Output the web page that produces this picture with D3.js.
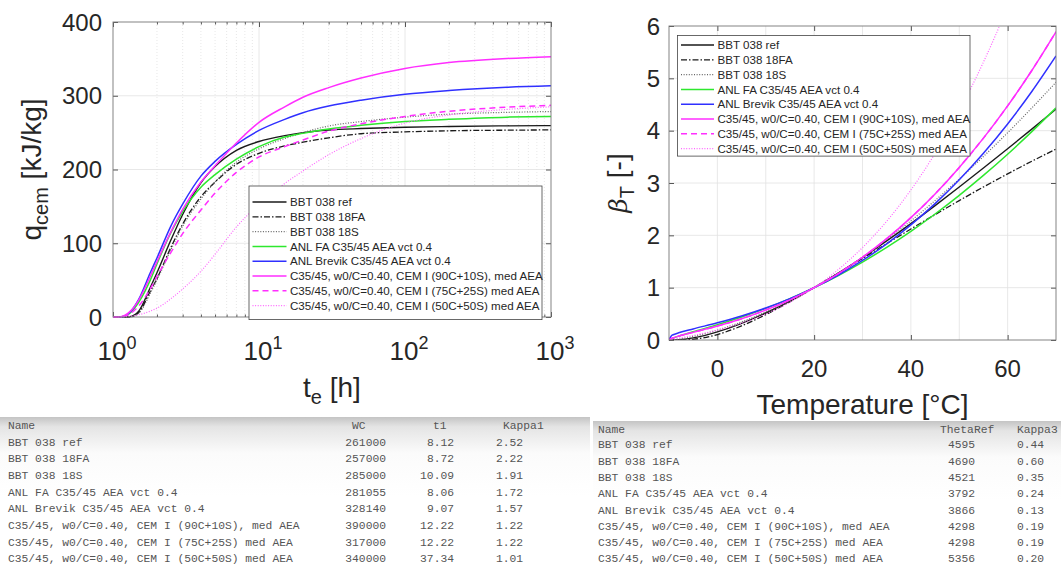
<!DOCTYPE html>
<html>
<head>
<meta charset="utf-8">
<script src="https://cdn.jsdelivr.net/npm/d3@7"></script>
<style>
  body { margin: 0; background: #fff; }
  text { font-family: "Liberation Sans", Arial, sans-serif; fill: #262626; }
  .mono { font-family: "Liberation Mono", "Courier New", monospace; fill: #555; font-size: 11.3px; }
</style>
</head>
<body>
<svg id="chart" width="1061" height="564"></svg>
<script>
// --- data ---
var names = [
  'BBT 038 ref',
  'BBT 038 18FA',
  'BBT 038 18S',
  'ANL FA C35/45 AEA vct 0.4',
  'ANL Brevik C35/45 AEA vct 0.4',
  'C35/45, w0/C=0.40, CEM I (90C+10S), med AEA',
  'C35/45, w0/C=0.40, CEM I (75C+25S) med AEA',
  'C35/45, w0/C=0.40, CEM I (50C+50S) med AEA'
];
var WC = ['261000', '257000', '285000', '281055', '328140', '390000', '317000', '340000'];
var t1 = ['8.12', '8.72', '10.09', '8.06', '9.07', '12.22', '12.22', '37.34'];
var kappa1 = ['2.52', '2.22', '1.91', '1.72', '1.57', '1.22', '1.22', '1.01'];
var thetaRef = ['4595', '4690', '4521', '3792', '3866', '4298', '4298', '5356'];
var kappa3 = ['0.44', '0.60', '0.35', '0.24', '0.13', '0.19', '0.19', '0.20'];

// heat curves, q_cem [kJ/kg] at t_e [h]
var tHours = [1, 1.1, 1.2, 1.3, 1.5, 1.8, 2, 2.5, 3, 4, 5, 7, 10, 15, 20, 30, 50, 100, 200, 500, 1000];
var qRef    = [0, 0, 0, 0.5, 8, 40, 60, 105, 139, 182, 204, 226, 238, 246, 250, 253.5, 255.5, 257.3, 258.3, 259.2, 259.5];
var q18FA   = [0, 0, 0, 0, 6, 35, 52, 95, 126, 163, 183, 207, 222, 232, 237, 243, 248.5, 251, 252.5, 253.3, 253.7];
var q18S    = [0, 0, 0, 0, 5, 32, 50, 92, 123, 160, 183, 210, 228, 242, 250, 259, 265, 271, 275, 277.5, 278.6];
var qAnlFa  = [0, 0, 1, 5, 20, 50, 72, 115, 143, 176, 193, 214, 231, 244, 249, 255, 260, 265, 268, 271, 272];
var qBrevik = [0, 0, 1, 6, 24, 60, 80, 124, 153, 191, 211, 234, 253, 268, 277, 286, 294, 302, 307, 311.5, 313.5];
var q90C    = [0, 0, 2, 7, 23, 55, 75, 116, 146, 183, 205, 236, 264, 285, 298, 311, 324, 337, 345, 350.5, 353];
var q75C    = [0, 0, 1, 4, 15, 38, 55, 88, 113, 145, 168, 196, 217, 231, 240, 252, 262, 272, 279, 284.5, 287];
var q50C    = [0, 0, 0.5, 1, 3, 8, 12, 25, 38, 62, 85, 122, 153, 181, 198, 220, 242, 263, 274, 281.5, 285];

// temperature factor beta_T [-] at T [C]
var tempC = [-10, -9.5, -9, -8, -5, 0, 5, 10, 15, 20, 25, 30, 35, 40, 45, 50, 55, 60, 65, 70];
var bRef    = [0, 0, 0.0005, 0.004, 0.04, 0.155, 0.318, 0.516, 0.745, 1, 1.278, 1.577, 1.893, 2.224, 2.568, 2.923, 3.286, 3.655, 4.03, 4.41];
var b18FA   = [0, 0, 0, 0.0002, 0.013, 0.104, 0.27, 0.486, 0.734, 1, 1.277, 1.559, 1.841, 2.121, 2.396, 2.664, 2.924, 3.175, 3.416, 3.648];
var b18S    = [0, 0, 0.004, 0.015, 0.068, 0.19, 0.346, 0.534, 0.752, 1, 1.278, 1.584, 1.918, 2.278, 2.665, 3.075, 3.507, 3.96, 4.434, 4.925];
var bAnlFa  = [0, 0.021, 0.04, 0.073, 0.157, 0.291, 0.439, 0.604, 0.791, 1, 1.232, 1.489, 1.77, 2.076, 2.408, 2.765, 3.145, 3.55, 3.981, 4.435];
var bBrevik = [0, 0.081, 0.105, 0.138, 0.212, 0.328, 0.459, 0.612, 0.791, 1, 1.242, 1.52, 1.838, 2.199, 2.605, 3.061, 3.568, 4.129, 4.748, 5.427];
var b90C    = [0, 0.028, 0.046, 0.075, 0.146, 0.266, 0.406, 0.572, 0.768, 1, 1.27, 1.581, 1.936, 2.338, 2.791, 3.298, 3.857, 4.474, 5.15, 5.889];
var b75C    = [0, 0.028, 0.046, 0.075, 0.146, 0.266, 0.406, 0.572, 0.768, 1, 1.27, 1.581, 1.936, 2.338, 2.791, 3.298, 3.857, 4.474, 5.15, 5.889];
var b50C    = [0, 0.01, 0.019, 0.036, 0.087, 0.189, 0.322, 0.497, 0.72, 1, 1.346, 1.766, 2.27, 2.867, 3.567, 4.379, 5.31, 6.37, 7.57, 8.91];

var qSeries = [qRef, q18FA, q18S, qAnlFa, qBrevik, q90C, q75C, q50C];
var bSeries = [bRef, b18FA, b18S, bAnlFa, bBrevik, b90C, b75C, b50C];

// line styles per series (same order as names)
var styles = [
  { color: '#1a1a1a', dash: null, w: 1.4 },
  { color: '#1a1a1a', dash: '6,2,1.5,2', w: 1.3 },
  { color: '#666', dash: '1,1.6', w: 1.2 },
  { color: '#2ee82e', dash: null, w: 1.5 },
  { color: '#3030ff', dash: null, w: 1.5 },
  { color: '#ff2eff', dash: null, w: 1.5 },
  { color: '#ff2eff', dash: '6,4', w: 1.5 },
  { color: '#ff66ff', dash: '1,1.6', w: 1.2 }
];

var svg = d3.select('#chart');

/**
 * left plot: heat of hydration
 */
var L = { left: 113, right: 551, top: 22, bottom: 317 };
var x1 = d3.scaleLog().domain([1, 1000]).range([L.left, L.right]);
var y1 = d3.scaleLinear().domain([0, 400]).range([L.bottom, L.top]);

var g1 = svg.append('g');
var minorT = [];
[1, 10, 100].forEach(function(dec) { for (var k = 2; k <= 9; k++) minorT.push(dec * k); });

// grid
g1.selectAll('.minor').data(minorT).enter().append('line')
  .attr('x1', d => x1(d)).attr('x2', d => x1(d))
  .attr('y1', L.top).attr('y2', L.bottom)
  .attr('stroke', '#d6d6d6').attr('stroke-width', 0.6).attr('stroke-dasharray', '1,2');
g1.selectAll('.vmaj').data([10, 100]).enter().append('line')
  .attr('x1', d => x1(d)).attr('x2', d => x1(d))
  .attr('y1', L.top).attr('y2', L.bottom)
  .attr('stroke', '#e2e2e2').attr('stroke-width', 0.8);
g1.selectAll('.hmaj').data([100, 200, 300]).enter().append('line')
  .attr('x1', L.left).attr('x2', L.right)
  .attr('y1', d => y1(d)).attr('y2', d => y1(d))
  .attr('stroke', '#e2e2e2').attr('stroke-width', 0.8);

// ticks (inward, all four sides)
g1.append('g').attr('transform', 'translate(0,' + L.bottom + ')')
  .call(d3.axisBottom(x1).tickValues([1, 10, 100, 1000]).tickFormat('').tickSize(-5).tickSizeOuter(0))
  .call(g => g.select('.domain').remove());
g1.append('g').attr('transform', 'translate(0,' + L.bottom + ')')
  .call(d3.axisBottom(x1).tickValues(minorT).tickFormat('').tickSize(-2.5).tickSizeOuter(0))
  .call(g => g.select('.domain').remove());
g1.append('g').attr('transform', 'translate(0,' + L.top + ')')
  .call(d3.axisTop(x1).tickValues([1, 10, 100, 1000]).tickFormat('').tickSize(-5).tickSizeOuter(0))
  .call(g => g.select('.domain').remove());
g1.append('g').attr('transform', 'translate(0,' + L.top + ')')
  .call(d3.axisTop(x1).tickValues(minorT).tickFormat('').tickSize(-2.5).tickSizeOuter(0))
  .call(g => g.select('.domain').remove());
g1.append('g').attr('transform', 'translate(' + L.left + ',0)')
  .call(d3.axisLeft(y1).ticks(4).tickFormat('').tickSize(-5).tickSizeOuter(0))
  .call(g => g.select('.domain').remove());
g1.append('g').attr('transform', 'translate(' + L.right + ',0)')
  .call(d3.axisRight(y1).ticks(4).tickFormat('').tickSize(-5).tickSizeOuter(0))
  .call(g => g.select('.domain').remove());
g1.selectAll('.tick line').attr('stroke', '#555');

// tick labels
g1.selectAll('.ylab').data([0, 100, 200, 300, 400]).enter().append('text')
  .attr('x', L.left - 11).attr('y', d => y1(d) + 8.5)
  .attr('text-anchor', 'end').attr('font-size', 24).text(d => d);
var xl = g1.selectAll('.xlab').data([0, 1, 2, 3]).enter().append('text')
  .attr('x', d => x1(Math.pow(10, d)) + 4).attr('y', 360)
  .attr('text-anchor', 'middle').attr('font-size', 26);
xl.append('tspan').text('10');
xl.append('tspan').attr('dy', -11).attr('font-size', 18).text(d => d);

// axis titles
var yt = g1.append('text').attr('transform', 'translate(41,' + ((L.top + L.bottom) / 2) + ') rotate(-90)')
  .attr('text-anchor', 'middle').attr('font-size', 28);
yt.append('tspan').text('q');
yt.append('tspan').attr('dy', 7).attr('font-size', 20).text('cem');
yt.append('tspan').attr('dy', -7).text(' [kJ/kg]');
var xt = g1.append('text').attr('x', (L.left + L.right) / 2).attr('y', 397)
  .attr('text-anchor', 'middle').attr('font-size', 28);
xt.append('tspan').text('t');
xt.append('tspan').attr('dy', 7).attr('font-size', 20).text('e');
xt.append('tspan').attr('dy', -7).text(' [h]');

// curves
var line1 = d3.line().curve(d3.curveMonotoneX)
  .x((d, i) => x1(tHours[i])).y(d => y1(d));
g1.selectAll('.q').data(qSeries).enter().append('path')
  .attr('fill', 'none')
  .attr('stroke', (d, i) => styles[i].color)
  .attr('stroke-width', (d, i) => styles[i].w)
  .attr('stroke-dasharray', (d, i) => styles[i].dash)
  .attr('d', line1);

g1.append('rect').attr('x', L.left).attr('y', L.top)
  .attr('width', L.right - L.left).attr('height', L.bottom - L.top)
  .attr('fill', 'none').attr('stroke', '#777').attr('stroke-width', 0.9);

legend(g1, 249, 186, 293, 15, 14.8, 290);

/**
 * right plot: temperature factor
 */
var R = { left: 669, right: 1056, top: 26, bottom: 340 };
var x2 = d3.scaleLinear().domain([-10, 70]).range([R.left, R.right]);
var y2 = d3.scaleLinear().domain([0, 6]).range([R.bottom, R.top]);
var g2 = svg.append('g');

g2.selectAll('.vg').data([0, 10, 20, 30, 40, 50, 60]).enter().append('line')
  .attr('x1', d => x2(d)).attr('x2', d => x2(d)).attr('y1', R.top).attr('y2', R.bottom)
  .attr('stroke', '#e2e2e2').attr('stroke-width', 0.8);
g2.selectAll('.hg').data([1, 2, 3, 4, 5]).enter().append('line')
  .attr('x1', R.left).attr('x2', R.right).attr('y1', d => y2(d)).attr('y2', d => y2(d))
  .attr('stroke', '#e2e2e2').attr('stroke-width', 0.8);

g2.append('g').attr('transform', 'translate(0,' + R.bottom + ')')
  .call(d3.axisBottom(x2).tickValues([0, 20, 40, 60]).tickFormat('').tickSize(-5).tickSizeOuter(0))
  .call(g => g.select('.domain').remove());
g2.append('g').attr('transform', 'translate(0,' + R.top + ')')
  .call(d3.axisTop(x2).tickValues([0, 20, 40, 60]).tickFormat('').tickSize(-5).tickSizeOuter(0))
  .call(g => g.select('.domain').remove());
g2.append('g').attr('transform', 'translate(' + R.left + ',0)')
  .call(d3.axisLeft(y2).ticks(6).tickFormat('').tickSize(-5).tickSizeOuter(0))
  .call(g => g.select('.domain').remove());
g2.append('g').attr('transform', 'translate(' + R.right + ',0)')
  .call(d3.axisRight(y2).ticks(6).tickFormat('').tickSize(-5).tickSizeOuter(0))
  .call(g => g.select('.domain').remove());
g2.selectAll('.tick line').attr('stroke', '#555');

g2.selectAll('.ylab').data([0, 1, 2, 3, 4, 5, 6]).enter().append('text')
  .attr('x', R.left - 9).attr('y', d => y2(d) + 8.5)
  .attr('text-anchor', 'end').attr('font-size', 24).text(d => d);
g2.selectAll('.xlab').data([0, 20, 40, 60]).enter().append('text')
  .attr('x', d => x2(d)).attr('y', 377)
  .attr('text-anchor', 'middle').attr('font-size', 24).text(d => d);

var bt = g2.append('text').attr('transform', 'translate(627,' + ((R.top + R.bottom) / 2) + ') rotate(-90)')
  .attr('text-anchor', 'middle').attr('font-size', 28);
bt.append('tspan').attr('font-family', 'DejaVu Serif').attr('font-style', 'italic').attr('font-size', 25).text('β');
bt.append('tspan').attr('dy', 7).attr('font-size', 20).text('T');
bt.append('tspan').attr('dy', -7).text(' [-]');
g2.append('text').attr('x', (R.left + R.right) / 2).attr('y', 414)
  .attr('text-anchor', 'middle').attr('font-size', 28).text('Temperature [°C]');

svg.append('clipPath').attr('id', 'clipR').append('rect')
  .attr('x', R.left).attr('y', R.top).attr('width', R.right - R.left).attr('height', R.bottom - R.top);
var line2 = d3.line().curve(d3.curveMonotoneX)
  .x((d, i) => x2(tempC[i])).y(d => y2(d));
g2.append('g').attr('clip-path', 'url(#clipR)')
  .selectAll('.b').data(bSeries).enter().append('path')
  .attr('fill', 'none')
  .attr('stroke', (d, i) => styles[i].color)
  .attr('stroke-width', (d, i) => styles[i].w)
  .attr('stroke-dasharray', (d, i) => styles[i].dash)
  .attr('d', line2);

g2.append('rect').attr('x', R.left).attr('y', R.top)
  .attr('width', R.right - R.left).attr('height', R.bottom - R.top)
  .attr('fill', 'none').attr('stroke', '#777').attr('stroke-width', 0.9);

legend(g2, 677.5, 35.5, 292.5, 8.5, 14.8, 717.5);

function legend(g, x0, y0, w, firstOff, step, textX) {
  g.append('rect').attr('x', x0).attr('y', y0).attr('width', w)
    .attr('height', firstOff * 2 + step * 7)
    .attr('fill', '#fff').attr('stroke', '#444').attr('stroke-width', 0.8);
  var rows = g.selectAll(null).data(names).enter().append('g')
    .attr('transform', (d, i) => 'translate(0,' + (y0 + firstOff + 1 + i * step) + ')');
  rows.append('line').attr('x1', x0 + 3.5).attr('x2', textX - 3.5)
    .attr('stroke', (d, i) => styles[i].color)
    .attr('stroke-width', (d, i) => styles[i].w)
    .attr('stroke-dasharray', (d, i) => styles[i].dash);
  rows.append('text').attr('x', textX).attr('y', 4.2).attr('font-size', 11.6).text(d => d);
}

/**
 * parameter tables under the plots
 */
var defs = svg.append('defs');
var grad = defs.append('linearGradient').attr('id', 'hdr').attr('x1', 0).attr('y1', 0).attr('x2', 0).attr('y2', 1);
grad.append('stop').attr('offset', '0%').attr('stop-color', '#c4c4c4');
grad.append('stop').attr('offset', '12%').attr('stop-color', '#e4e4e4');
grad.append('stop').attr('offset', '45%').attr('stop-color', '#fbfbfb');
grad.append('stop').attr('offset', '100%').attr('stop-color', '#fff');

svg.insert('rect', ':first-child').attr('x', 0).attr('y', 417).attr('width', 590).attr('height', 80).attr('fill', 'url(#hdr)');
svg.insert('rect', ':first-child').attr('x', 593).attr('y', 421).attr('width', 468).attr('height', 80).attr('fill', 'url(#hdr)');

var tl = svg.append('g');
tl.append('text').attr('class', 'mono').attr('x', 8).attr('y', 429).text('Name');
tl.append('text').attr('class', 'mono').attr('x', 352).attr('y', 429).text('WC');
tl.append('text').attr('class', 'mono').attr('x', 433).attr('y', 429).text('t1');
tl.append('text').attr('class', 'mono').attr('x', 503).attr('y', 429).text('Kappa1');
names.forEach(function(n, i) {
  var yy = 445.7 + i * 16.66;
  tl.append('text').attr('class', 'mono').attr('x', 8).attr('y', yy).text(n);
  tl.append('text').attr('class', 'mono').attr('x', 386).attr('y', yy).attr('text-anchor', 'end').text(WC[i]);
  tl.append('text').attr('class', 'mono').attr('x', 454).attr('y', yy).attr('text-anchor', 'end').text(t1[i]);
  tl.append('text').attr('class', 'mono').attr('x', 523).attr('y', yy).attr('text-anchor', 'end').text(kappa1[i]);
});

var tr = svg.append('g');
tr.append('text').attr('class', 'mono').attr('x', 598).attr('y', 433).text('Name');
tr.append('text').attr('class', 'mono').attr('x', 940).attr('y', 433).text('ThetaRef');
tr.append('text').attr('class', 'mono').attr('x', 1017).attr('y', 433).text('Kappa3');
names.forEach(function(n, i) {
  var yy = 448.3 + i * 16.3;
  tr.append('text').attr('class', 'mono').attr('x', 598).attr('y', yy).text(n);
  tr.append('text').attr('class', 'mono').attr('x', 975).attr('y', yy).attr('text-anchor', 'end').text(thetaRef[i]);
  tr.append('text').attr('class', 'mono').attr('x', 1044).attr('y', yy).attr('text-anchor', 'end').text(kappa3[i]);
});
</script>
</body>
</html>
